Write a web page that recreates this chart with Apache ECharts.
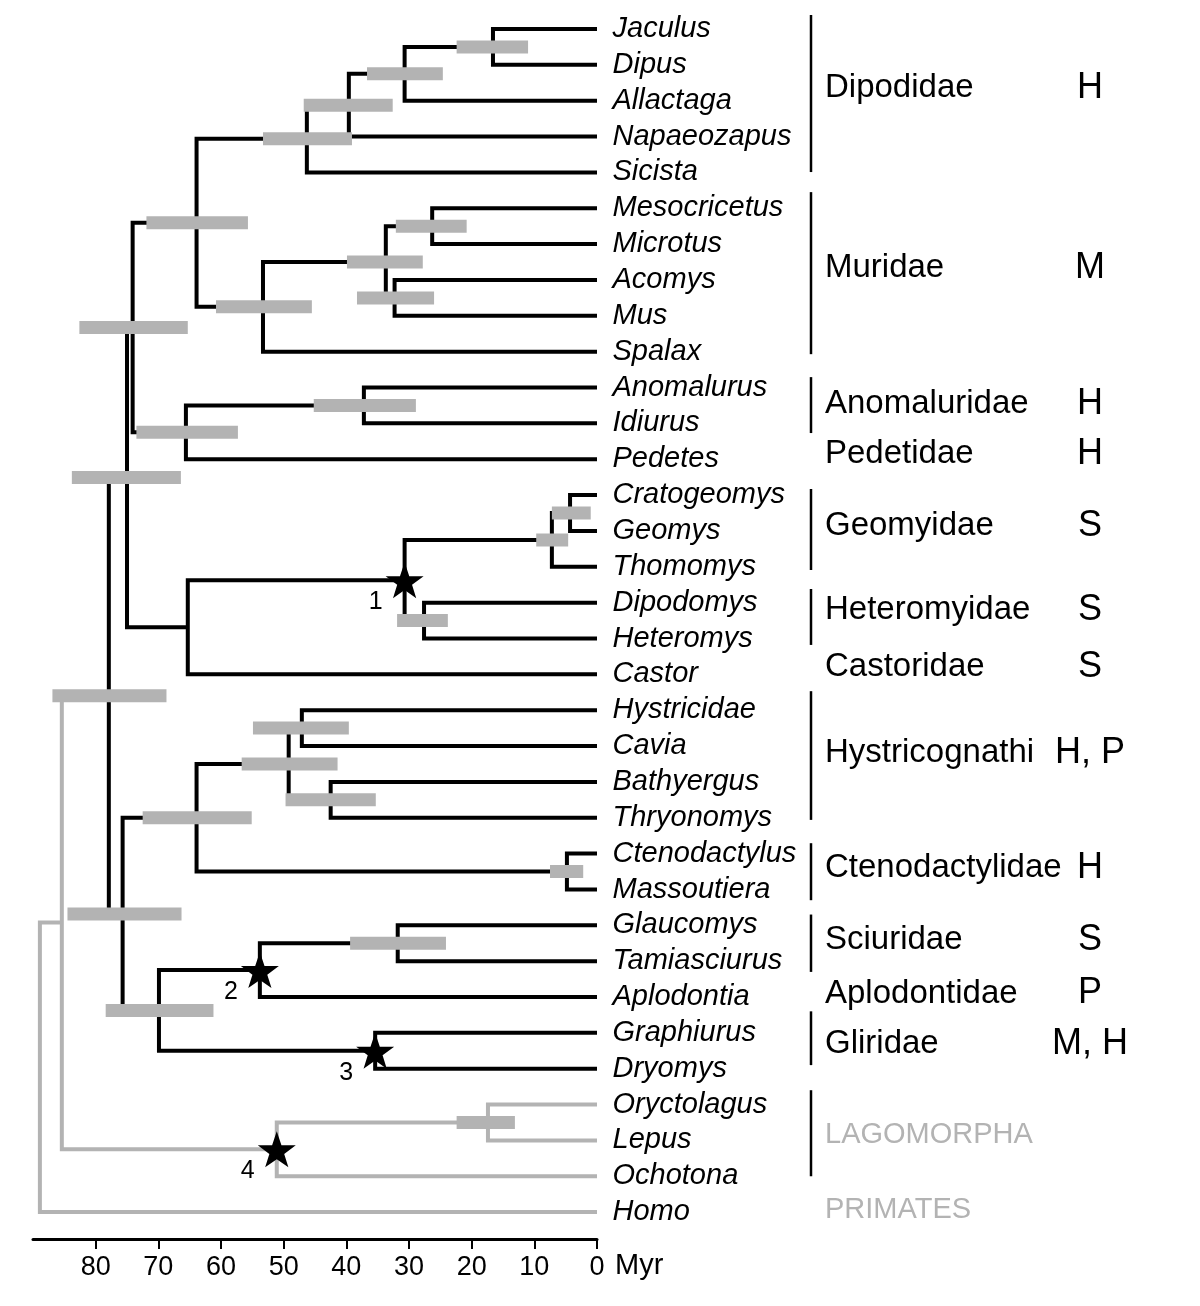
<!DOCTYPE html>
<html><head><meta charset="utf-8">
<script src="https://cdn.jsdelivr.net/npm/echarts@6/dist/echarts.min.js"></script>
<style>html,body{margin:0;padding:0;background:#fff}#chart{width:1200px;height:1306px}</style>
</head><body><div id="chart"></div>
<script>
// ---------------- DATA ----------------
const taxa = ['Jaculus','Dipus','Allactaga','Napaeozapus','Sicista','Mesocricetus','Microtus','Acomys','Mus','Spalax',
  'Anomalurus','Idiurus','Pedetes','Cratogeomys','Geomys','Thomomys','Dipodomys','Heteromys','Castor',
  'Hystricidae','Cavia','Bathyergus','Thryonomys','Ctenodactylus','Massoutiera','Glaucomys','Tamiasciurus',
  'Aplodontia','Graphiurus','Dryomys','Oryctolagus','Lepus','Ochotona','Homo'];

// [node id, age (Myr), child A, child B]
const nodes = [
  ['n1', 16.6, 'Jaculus', 'Dipus'],
  ['n2', 30.7, 'n1', 'Allactaga'],
  ['n3', 39.6, 'n2', 'Napaeozapus'],
  ['n4', 46.3, 'n3', 'Sicista'],
  ['n5', 26.3, 'Mesocricetus', 'Microtus'],
  ['n6', 32.3, 'Acomys', 'Mus'],
  ['n7', 33.7, 'n5', 'n6'],
  ['n8', 53.3, 'n7', 'Spalax'],
  ['n9', 63.9, 'n4', 'n8'],
  ['n10', 37.2, 'Anomalurus', 'Idiurus'],
  ['n11', 65.6, 'n10', 'Pedetes'],
  ['n12', 74.1, 'n9', 'n11'],
  ['n13', 4.3, 'Cratogeomys', 'Geomys'],
  ['n14', 7.2, 'n13', 'Thomomys'],
  ['n15', 27.6, 'Dipodomys', 'Heteromys'],
  ['n16', 30.7, 'n14', 'n15'],
  ['n17', 65.3, 'n16', 'Castor'],
  ['n18', 75.0, 'n12', 'n17'],
  ['n19', 47.1, 'Hystricidae', 'Cavia'],
  ['n20', 42.5, 'Bathyergus', 'Thryonomys'],
  ['n21', 49.2, 'n19', 'n20'],
  ['n22', 4.8, 'Ctenodactylus', 'Massoutiera'],
  ['n23', 63.9, 'n21', 'n22'],
  ['n24', 31.8, 'Glaucomys', 'Tamiasciurus'],
  ['n25', 53.8, 'n24', 'Aplodontia'],
  ['n26', 35.4, 'Graphiurus', 'Dryomys'],
  ['n27', 69.9, 'n25', 'n26'],
  ['n28', 75.7, 'n23', 'n27'],
  ['n29', 77.9, 'n18', 'n28'],
  ['n30', 17.4, 'Oryctolagus', 'Lepus'],
  ['n31', 51.1, 'n30', 'Ochotona'],
  ['n32', 85.4, 'n29', 'n31'],
  ['n33', 88.9, 'n32', 'Homo']
];
const greyNodes = ['n30', 'n31', 'n32', 'n33'];

// credibility intervals: [node id, older bound, younger bound] (Myr)
const intervals = [
  ['n1', 22.4, 11.0], ['n2', 36.7, 24.6], ['n3', 46.8, 32.6], ['n4', 53.3, 39.1],
  ['n9', 71.9, 55.7], ['n5', 32.1, 20.8], ['n6', 38.3, 26.0], ['n7', 39.9, 27.8],
  ['n8', 60.8, 45.5], ['n10', 45.2, 28.9], ['n11', 73.5, 57.3], ['n12', 82.6, 65.3],
  ['n13', 7.2, 1.0], ['n14', 9.7, 4.6], ['n15', 31.9, 23.8], ['n18', 83.8, 66.4],
  ['n19', 54.9, 39.6], ['n20', 49.7, 35.3], ['n21', 56.7, 41.4], ['n22', 7.5, 2.2],
  ['n23', 72.5, 55.1], ['n24', 39.4, 24.1], ['n27', 78.4, 61.2], ['n28', 84.5, 66.3],
  ['n29', 86.9, 68.7], ['n30', 22.4, 13.1]
];

// calibration points (stars)
const calibrations = [['n16', '1'], ['n25', '2'], ['n26', '3'], ['n31', '4']];

// family labels: [name, row position, locomotion code]
const families = [
  ['Dipodidae', 1.65, 'H'], ['Muridae', 6.67, 'M'], ['Anomaluridae', 10.46, 'H'],
  ['Pedetidae', 11.85, 'H'], ['Geomyidae', 13.86, 'S'], ['Heteromyidae', 16.2, 'S'],
  ['Castoridae', 17.8, 'S'], ['Hystricognathi', 20.2, 'H, P'], ['Ctenodactylidae', 23.4, 'H'],
  ['Sciuridae', 25.4, 'S'], ['Aplodontidae', 26.9, 'P'], ['Gliridae', 28.3, 'M, H'],
  ['LAGOMORPHA', 30.85, ''], ['PRIMATES', 32.95, '']
];
const greyFamilies = ['LAGOMORPHA', 'PRIMATES'];
// bracket extents in row units
const bracketStart = [-0.39, 4.55, 9.71, 12.83, 15.62, 18.47, 22.71, 24.7, 27.4, 29.6];
const bracketEnd   = [3.99, 9.07, 11.27, 15.09, 17.18, 22.06, 24.3, 26.3, 28.9, 32.0];

const xTicks = [0, 10, 20, 30, 40, 50, 60, 70, 80];

// ---------------- BUILD ----------------
const GREY = '#b3b3b3';
const FONT = 'Liberation Sans, Arial, sans-serif';
const pos = {};
taxa.forEach((t, i) => { pos[t] = { age: 0, y: i }; });
nodes.forEach(([id, age, a, b]) => { pos[id] = { age: age, y: (pos[a].y + pos[b].y) / 2 }; });

const edgeData = nodes.map(([id, age, a, b]) =>
  [pos[a].age, pos[a].y, age, pos[b].y, pos[b].age, greyNodes.includes(id) ? 1 : 0]);
edgeData.sort((p, q) => q[5] - p[5]);
const barData = intervals.map(([id, o, y]) => [o, y, pos[id].y]);
const starData = calibrations.map(([id, lab]) => ({ value: [pos[id].age, pos[id].y], lab: lab }));
const tipData = taxa.map((t, i) => ({ value: [0, i], name: t }));
const famData = families.map(f => [0, f[1]]);
const brData = bracketStart.map((s, i) => [0, s, bracketEnd[i]]);

const STAR = 'path://M50,0 L61.8,35.1 L98.1,35.1 L68.8,56.7 L79.4,90.5 L50,69.8 L20.6,90.5 L31.2,56.7 L1.9,35.1 L38.2,35.1 Z';

const chart = echarts.init(document.getElementById('chart'), null, { renderer: 'canvas' });
chart.setOption({
  animation: false,
  backgroundColor: '#fff',
  textStyle: { fontFamily: FONT },
  grid: { left: 33, right: 603, top: 29, bottom: 67, containLabel: false },
  xAxis: {
    type: 'value', inverse: true, min: 0, max: 90, interval: 10, position: 'bottom',
    axisLine: { onZero: false, lineStyle: { color: '#000', width: 3 } },
    axisTick: { customValues: xTicks, length: 10, lineStyle: { color: '#000', width: 2 } },
    axisLabel: { customValues: xTicks, margin: 15, fontSize: 27, color: '#000', fontFamily: FONT,
      formatter: v => (v > 85 ? '' : String(v)) },
    splitLine: { show: false },
    name: 'Myr', nameLocation: 'start', nameGap: 18,
    nameTextStyle: { fontSize: 29, color: '#000', fontFamily: FONT, align: 'left', verticalAlign: 'top', padding: [12, 0, 0, 0] }
  },
  yAxis: { type: 'value', inverse: true, min: 0, max: 33.75, show: false },
  series: [
    {
      type: 'custom', name: 'branches', data: edgeData, silent: true, clip: false,
      encode: { x: [0, 2, 4], y: [1, 3] },
      renderItem: (params, api) => {
        const p1 = api.coord([api.value(0), api.value(1)]);
        const p2 = api.coord([api.value(2), api.value(1)]);
        const p3 = api.coord([api.value(2), api.value(3)]);
        const p4 = api.coord([api.value(4), api.value(3)]);
        return { type: 'polyline', shape: { points: [p1, p2, p3, p4] },
          style: { stroke: api.value(5) ? GREY : '#000', lineWidth: 4, fill: null, lineJoin: 'miter', lineCap: 'butt' } };
      }
    },
    {
      type: 'custom', name: 'intervals', data: barData, silent: true, clip: false, z: 3,
      encode: { x: [0, 1], y: 2 },
      renderItem: (params, api) => {
        const a = api.coord([api.value(0), api.value(2)]);
        const b = api.coord([api.value(1), api.value(2)]);
        return { type: 'rect', shape: { x: Math.min(a[0], b[0]), y: a[1] - 6.5, width: Math.abs(b[0] - a[0]), height: 13 },
          style: { fill: GREY } };
      }
    },
    {
      type: 'scatter', name: 'tips', data: tipData, symbolSize: 1, silent: true, z: 4,
      itemStyle: { color: 'rgba(0,0,0,0)', opacity: 1 },
      label: { show: true, position: 'right', distance: 15, formatter: p => p.name,
        fontSize: 29, fontStyle: 'italic', color: '#000', opacity: 1, fontFamily: FONT }
    },
    {
      type: 'scatter', name: 'calibrations', data: starData, symbol: STAR, symbolSize: [38, 36], silent: true, z: 5,
      itemStyle: { color: '#000', opacity: 1 },
      label: { show: true, position: 'inside', offset: [-29, 22], formatter: p => p.data.lab,
        fontSize: 25, color: '#000', opacity: 1, fontFamily: FONT }
    },
    {
      type: 'custom', name: 'brackets', data: brData, silent: true, clip: false,
      encode: { x: 0, y: [1, 2] },
      renderItem: (params, api) => {
        const a = api.coord([0, api.value(1)]);
        const b = api.coord([0, api.value(2)]);
        return { type: 'line', shape: { x1: a[0] + 214, y1: a[1], x2: b[0] + 214, y2: b[1] },
          style: { stroke: '#000', lineWidth: 2.5 } };
      }
    },
    {
      type: 'custom', name: 'families', data: famData, silent: true, clip: false,
      encode: { x: 0, y: 1 },
      renderItem: (params, api) => {
        const f = families[params.dataIndex];
        const p = api.coord([0, api.value(1)]);
        const grey = greyFamilies.includes(f[0]);
        return { type: 'group', children: [
          { type: 'text', x: p[0] + 228, y: p[1], style: { text: f[0], fontSize: grey ? 29 : 33, fontFamily: FONT,
              fill: grey ? GREY : '#000', align: 'left', verticalAlign: 'middle' } },
          { type: 'text', x: p[0] + 493, y: p[1], style: { text: f[2], fontSize: 36, fontFamily: FONT,
              fill: '#000', align: 'center', verticalAlign: 'middle' } }
        ] };
      }
    }
  ]
});
</script></body></html>
